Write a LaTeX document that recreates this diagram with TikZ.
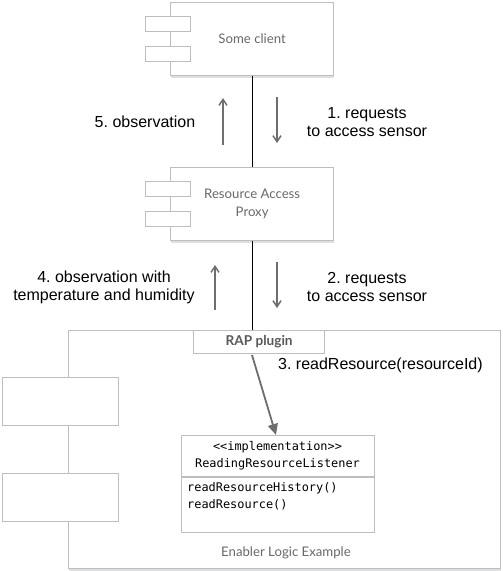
\documentclass[tikz,border=0pt]{standalone}
\usepackage{fontspec}
\setmainfont{Liberation Sans}
\setmonofont{DejaVu Sans Mono}
\newfontfamily\compfont{Lato}
\frenchspacing
\usetikzlibrary{positioning,calc}
\usetikzlibrary{arrows.meta,shadows}
\definecolor{BoxGray}{RGB}{188,190,192}
\definecolor{ArrowGray}{RGB}{110,110,110}
\definecolor{TextGray}{RGB}{105,105,105}
\definecolor{ShadowGray}{RGB}{222,223,224}
\tikzset{
  comp/.style={draw=BoxGray,fill=white,line width=1.3pt,anchor=north west,inner sep=0pt,
    minimum width=163pt,minimum height=73pt,align=center,text=TextGray,
    font=\compfont\fontsize{13.2}{18}\selectfont,
    drop shadow={shadow xshift=0pt,shadow yshift=-2pt,fill=ShadowGray,opacity=1}},
  port/.style={draw=BoxGray,fill=white,line width=1.3pt,anchor=north west,inner sep=0pt,
    minimum width=45pt,minimum height=15pt},
  bigport/.style={port,minimum width=116pt,minimum height=48pt},
  frame/.style={comp,minimum width=432pt,minimum height=238pt},
  plugin/.style={draw=BoxGray,fill=white,line width=1.3pt,anchor=north west,inner sep=0pt,
    minimum width=131pt,minimum height=23pt,text=black!65,
    font=\compfont\bfseries\fontsize{13.6}{15}\selectfont},
  classbox/.style={draw=BoxGray,fill=white,line width=1.3pt,anchor=north west,inner sep=0pt,
    minimum width=193pt,minimum height=97pt},
  wire/.style={draw=black,line width=0.6pt},
  flow/.style={draw=ArrowGray,line width=1.8pt,-{Straight Barb[length=6pt,width=8pt,line width=1.5pt]}},
  call/.style={draw=ArrowGray,line width=1.8pt,-{Triangle[length=11pt,width=10pt]}},
  msg/.style={align=center,font=\fontsize{16}{18}\selectfont},
  code/.style={font=\ttfamily\fontsize{11.9}{17}\selectfont,inner sep=0pt},
}
\begin{document}
\begin{tikzpicture}[x=1pt,y=-1pt]
\useasboundingbox (0,0) rectangle (503,571);
\node[comp] (client) at (170,2) {Some client};
\node[port] (clientp1) at (145,16) {};
\node[port] (clientp2) at (145,46) {};
\node[comp] (rap) at (170,167) {Resource Access\\Proxy};
\node[port] (rapp1) at (145,181) {};
\node[port] (rapp2) at (145,211) {};
\node[frame] (enabler) at (68,330) {};
\node[bigport] (enablerp1) at (2,377) {};
\node[bigport] (enablerp2) at (2,473) {};
\node[plugin] (plugin) at (193,330) {RAP plugin};
\node[classbox] (listener) at (181,435) {};
\draw[draw=BoxGray,line width=1.3pt] (listener.west |- 0,477) -- (listener.east |- 0,477);
\node[code,align=center] (stereo) at (277.5,455.5) {<<implementation>>\\ReadingResourceListener};
\node[code,align=left,anchor=north west] (methods) at (187,482) {readResourceHistory()\\readResource()};
\node[font=\compfont\fontsize{13.2}{15}\selectfont,text=TextGray] (enablername) at (286,553) {Enabler Logic Example};
\draw[wire] (client.south) -- (rap.north);
\draw[wire] (rap.south) -- (rap.south |- enabler.north);
\coordinate (obsfrom) at (223,145);
\coordinate (obsto) at (223,98);
\coordinate (reqfrom) at (277,97);
\coordinate (reqto) at (277,143);
\coordinate (tempfrom) at (215,310);
\coordinate (tempto) at (215,265);
\coordinate (sensfrom) at (277,262);
\coordinate (sensto) at (277,308);
\draw[flow] (obsfrom) -- (obsto);
\draw[flow] (reqfrom) -- (reqto);
\draw[flow] (tempfrom) -- (tempto);
\draw[flow] (sensfrom) -- (sensto);
\draw[call] (252,355) -- (listener.north -| 276,0);
\node[msg] (obslabel) at (145,122) {5. observation};
\node[msg] (reqlabel) at (367,122) {1. requests\\to access sensor};
\node[msg] (templabel) at (104,287) {4. observation with\\temperature and humidity};
\node[msg] (senslabel) at (367,287) {2. requests\\to access sensor};
\node[msg,anchor=west,inner sep=0pt] (calllabel) at (278,365) {3. readResource(resourceId)};
\end{tikzpicture}
\end{document}
